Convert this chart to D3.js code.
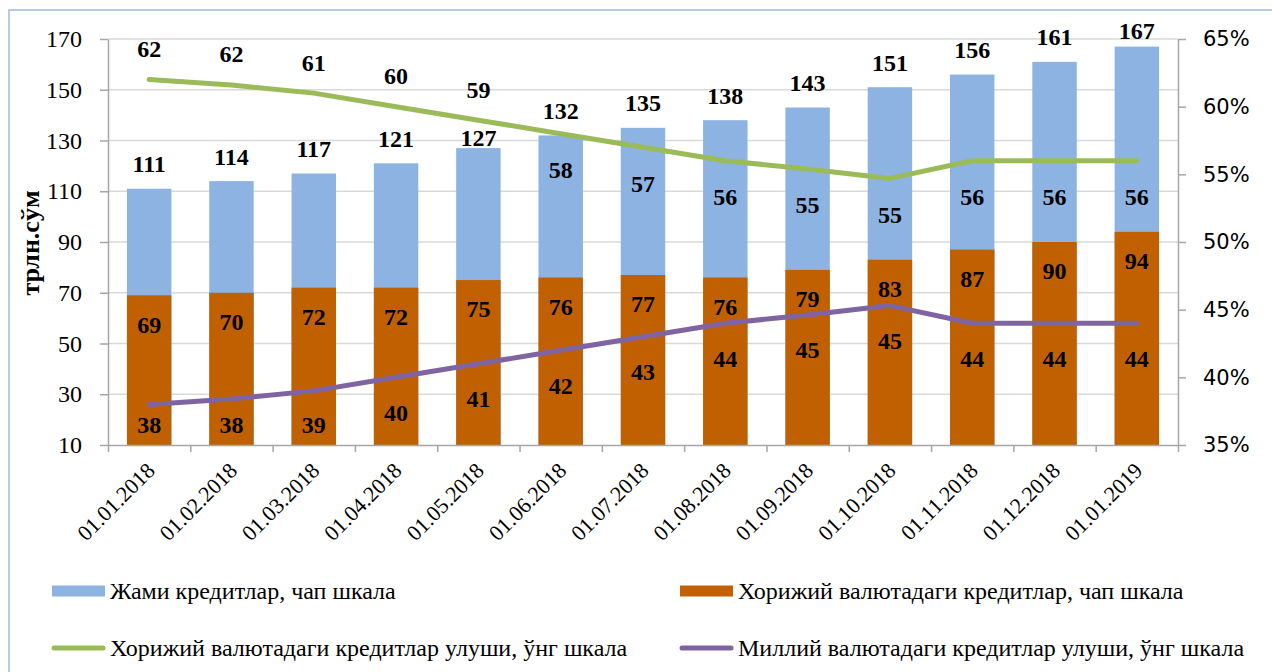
<!DOCTYPE html>
<html><head><meta charset="utf-8">
<script src="https://cdn.jsdelivr.net/npm/d3@7"></script>
<style>
html,body{margin:0;padding:0;background:#fff;}
svg{display:block;}
.serif{font-family:"Liberation Serif";}
.sans{font-family:"DejaVu Sans";}
</style>
</head><body>
<svg id="chart" width="1272" height="672"></svg>
<script>
const dates = ["01.01.2018","01.02.2018","01.03.2018","01.04.2018","01.05.2018","01.06.2018","01.07.2018","01.08.2018","01.09.2018","01.10.2018","01.11.2018","01.12.2018","01.01.2019"];
const totalLoans = [111,114,117,121,127,132,135,138,143,151,156,161,167];
const foreignLoans = [69,70,72,72,75,76,77,76,79,83,87,90,94];
const foreignShare = [62.0,61.6,61.0,60.0,59.0,58.0,57.0,56.0,55.4,54.7,56.0,56.0,56.0];
const nationalShare = [38.0,38.4,39.0,40.0,41.0,42.0,43.0,44.0,44.6,45.3,44.0,44.0,44.0];
const leftTicks = [10,30,50,70,90,110,130,150,170];
const rightTicks = [35,40,45,50,55,60,65];
const yTitle = "трлн.сўм";
const legendNames = ["Жами кредитлар, чап шкала","Хорижий валютадаги кредитлар, чап шкала","Хорижий валютадаги кредитлар улуши, ўнг шкала","Миллий валютадаги кредитлар улуши, ўнг шкала"];

const C = {blue:"#8DB3E2", orange:"#C06000", green:"#9BBB59", purple:"#8064A2", axis:"#A6A6A6", grid:"#D9D9D9", frame:"#9DB9DB"};

const svg = d3.select("#chart");
svg.append("rect").attr("x",9).attr("y",10).attr("width",1300).attr("height",700)
  .attr("fill","none").attr("stroke",C.frame).attr("stroke-width",1.5);

const L = 108, R = 1178, T = 39, B = 445;
const x = d3.scaleBand().domain(dates).range([L,R]).paddingInner(0.46).paddingOuter(0.23);
const xi = d3.scaleLinear().domain([0,dates.length]).range([L,R]);
const yL = d3.scaleLinear().domain([10,170]).range([B,T]);
const yR = d3.scaleLinear().domain([35,65]).range([B,T]);
const cx = d => x(d) + x.bandwidth()/2;

// gridlines
svg.append("g").selectAll("line").data(leftTicks.slice(1)).join("line")
  .attr("x1",L).attr("x2",R).attr("y1",d=>yL(d)).attr("y2",d=>yL(d))
  .attr("stroke",C.grid).attr("stroke-width",1.3);

// bars
svg.append("g").selectAll("rect").data(dates).join("rect")
  .attr("x",d=>x(d)).attr("width",x.bandwidth())
  .attr("y",(d,i)=>yL(totalLoans[i])).attr("height",(d,i)=>yL(10)-yL(totalLoans[i]))
  .attr("fill",C.blue);
svg.append("g").selectAll("rect").data(dates).join("rect")
  .attr("x",d=>x(d)).attr("width",x.bandwidth())
  .attr("y",(d,i)=>yL(foreignLoans[i])).attr("height",(d,i)=>yL(10)-yL(foreignLoans[i]))
  .attr("fill",C.orange);

// axes
const styleAxis = g => { g.select(".domain").attr("stroke",C.axis).attr("stroke-width",1.5); g.selectAll(".tick line").attr("stroke",C.axis).attr("stroke-width",1.5); };
svg.append("g").attr("transform",`translate(${L},0)`)
  .call(d3.axisLeft(yL).tickValues(leftTicks).tickSize(8).tickPadding(18).tickSizeOuter(0))
  .call(styleAxis)
  .call(g=>g.attr("font-family",null).attr("font-size",null))
  .call(g=>g.selectAll("text").attr("class","serif").attr("font-size",24).attr("fill","#000"));
svg.append("g").attr("transform",`translate(${R},0)`)
  .call(d3.axisRight(yR).tickValues(rightTicks).tickFormat(d=>d+"%").tickSize(8).tickPadding(17).tickSizeOuter(0))
  .call(styleAxis)
  .call(g=>g.attr("font-family",null).attr("font-size",null))
  .call(g=>g.selectAll("text").attr("class","sans").attr("font-size",21).attr("fill","#000"));
svg.append("g").attr("transform",`translate(0,${B})`)
  .call(d3.axisBottom(xi).tickValues(d3.range(dates.length+1)).tickFormat("").tickSize(7).tickSizeOuter(0))
  .call(styleAxis);
svg.append("g").attr("transform",`translate(0,${B})`)
  .call(d3.axisBottom(x).tickSize(0).tickPadding(0))
  .call(g=>g.attr("font-family",null).attr("font-size",null))
  .call(g=>g.select(".domain").remove())
  .call(g=>g.selectAll("text").attr("class","serif").attr("font-size",22).attr("fill","#000")
    .attr("text-anchor","end").attr("dy",null).attr("y",null)
    .attr("transform","translate(7,27) rotate(-45)"));

// y title
svg.append("text").attr("class","serif").attr("transform","translate(39,243) rotate(-90)")
  .attr("text-anchor","middle").attr("font-weight","bold").attr("font-size",26)
  .text(yTitle);

// lines
const lineGen = (ys) => d3.line().x((d,i)=>cx(dates[i])).y(d=>ys(d));
svg.append("path").datum(foreignShare).attr("d",lineGen(yR)).attr("fill","none")
  .attr("stroke",C.green).attr("stroke-width",5).attr("stroke-linecap","round").attr("stroke-linejoin","round");
svg.append("path").datum(nationalShare).attr("d",lineGen(yR)).attr("fill","none")
  .attr("stroke",C.purple).attr("stroke-width",5).attr("stroke-linecap","round").attr("stroke-linejoin","round");

// labels
const lab = svg.append("g").attr("class","serif").attr("font-weight","bold").attr("font-size",24)
  .attr("text-anchor","middle").attr("fill","#000");
const fmt = d3.format(".0f");
dates.forEach((d,i)=>{
  const X = cx(d);
  let ty = Math.max(yL(totalLoans[i]) - 25, 31);
  const ly = yR(foreignShare[i]);
  if (Math.abs(ty-ly) < 12) ty = ly + 17;
  lab.append("text").attr("x",X).attr("y",ty).attr("dy","0.35em").text(fmt(totalLoans[i]));
  lab.append("text").attr("x",X).attr("y",yL(foreignLoans[i])+29).attr("dy","0.35em").text(fmt(foreignLoans[i]));
  const gy = i < 5 ? ly - 31 : ly + 36;
  lab.append("text").attr("x",X).attr("y",gy).attr("dy","0.35em").text(fmt(foreignShare[i]));
  const py = Math.min(yR(nationalShare[i]) + 35, 425);
  lab.append("text").attr("x",X).attr("y",py).attr("dy","0.35em").text(fmt(nationalShare[i]));
});

// legend
const leg = svg.append("g").attr("class","serif").attr("font-size",24).attr("fill","#000");
const legItems = [
  {name:legendNames[0], type:"rect", color:C.blue, x:52, y:591},
  {name:legendNames[1], type:"rect", color:C.orange, x:680, y:591},
  {name:legendNames[2], type:"line", color:C.green, x:52, y:648},
  {name:legendNames[3], type:"line", color:C.purple, x:680, y:648}
];
legItems.forEach(it=>{
  if (it.type==="rect") leg.append("rect").attr("x",it.x).attr("y",it.y-5.5).attr("width",53).attr("height",11).attr("fill",it.color);
  else leg.append("line").attr("x1",it.x+2).attr("x2",it.x+51).attr("y1",it.y).attr("y2",it.y)
    .attr("stroke",it.color).attr("stroke-width",5).attr("stroke-linecap","round");
  leg.append("text").attr("x",it.x+58).attr("y",it.y).attr("dy","0.35em").text(it.name);
});
</script>
</body></html>
